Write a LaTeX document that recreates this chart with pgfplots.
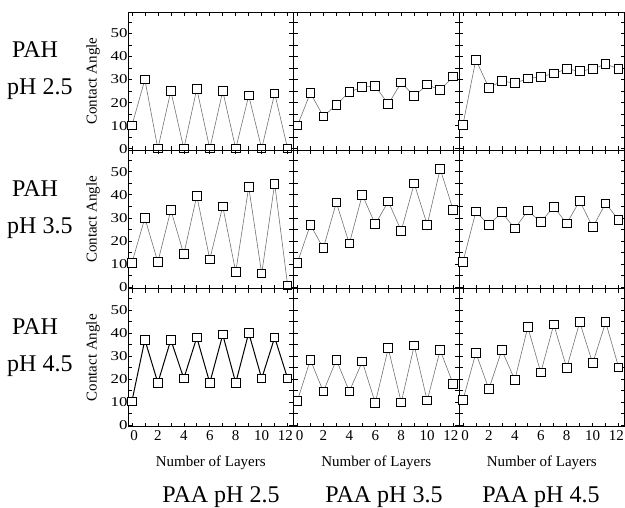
\documentclass[border=0pt]{standalone}
\usepackage{fontspec}
\setmainfont{Liberation Serif}
\newfontfamily\ytickfont{Liberation Serif}[FakeStretch=1.25]
\usepackage{pgfplots}
\pgfplotsset{compat=1.18}
\pgfplotsset{
 panel/.style={
  scale only axis, width=165.5pt, height=138.3pt,
  xmin=-0.3, xmax=12.45, ymin=-0.7, ymax=59.3,
  anchor=north west, clip=false,
  axis line style={line width=0.9pt},
  tick align=inside, major tick length=4pt, minor tick length=4pt,
  every tick/.style={black, line width=0.6pt},
  xtick={0,2,...,12}, minor xtick={1,3,...,11},
  xticklabels={{\hspace*{4.5pt}0},2,4,6,8,10,{12\hspace*{4.5pt}}},
  ytick={0,10,...,50}, minor ytick={5,15,...,55},
  /pgf/number format/assume math mode=true,
  xticklabel style={font=\fontsize{15}{15}\selectfont},
  yticklabel style={font=\ytickfont\fontsize{13.5}{13.5}\selectfont, xshift=3pt},
  ylabel style={at={(axis description cs:-0.2115,0.5)}, anchor=center, font=\fontsize{15}{15}\selectfont},
  xlabel style={at={(axis description cs:0.5,-0.26)}, anchor=center, font=\fontsize{15}{15}\selectfont},
 },
 noy/.style={yticklabels={}},
 nox/.style={xticklabels={}},
 ser/.style={color=black!55, line width=0.6pt, mark=square*, mark size=4.3pt,
   mark options={fill=white, draw=black, line width=1pt, solid}},
}
\begin{document}
\begin{tikzpicture}
% Row 1
\begin{axis}[panel, nox, at={(128pt,496pt)}, ylabel={Contact Angle}]
\addplot[ser] coordinates {(0,10)(1,30)(2,0)(3,25)(4,0)(5,26)(6,0)(7,25)(8,0)(9,23)(10,0)(11,24)(12,0)};
\end{axis}
\begin{axis}[panel, nox, noy, at={(293.5pt,496pt)}]
\addplot[ser] coordinates {(0,10)(1,24.2)(2,14)(3,19)(4,24.6)(5,26.7)(6,27.2)(7,19.3)(8,28.7)(9,22.8)(10,27.8)(11,25.4)(12,31.3)};
\end{axis}
\begin{axis}[panel, nox, noy, at={(459pt,496pt)}]
\addplot[ser] coordinates {(0,10.3)(1,38.6)(2,26.4)(3,29.4)(4,28.4)(5,30.4)(6,31.2)(7,32.6)(8,34.6)(9,33.6)(10,34.6)(11,36.7)(12,34.6)};
\end{axis}
% Row 2
\begin{axis}[panel, nox, at={(128pt,357.7pt)}, ylabel={Contact Angle}]
\addplot[ser] coordinates {(0,10.5)(1,29.9)(2,10.8)(3,33.4)(4,14.2)(5,39.6)(6,12)(7,35)(8,6.5)(9,43.4)(10,5.8)(11,44.8)(12,0.6)};
\end{axis}
\begin{axis}[panel, nox, noy, at={(293.5pt,357.7pt)}]
\addplot[ser] coordinates {(0,10.5)(1,27)(2,16.8)(3,36.6)(4,18.8)(5,40)(6,27.2)(7,37.1)(8,24.4)(9,44.9)(10,27)(11,51.2)(12,33.5)};
\end{axis}
\begin{axis}[panel, nox, noy, at={(459pt,357.7pt)}]
\addplot[ser] coordinates {(0,10.8)(1,32.7)(2,26.9)(3,32.4)(4,25.3)(5,33.1)(6,28.2)(7,34.8)(8,27.5)(9,37.4)(10,25.9)(11,36.3)(12,29)};
\end{axis}
% Row 3
\begin{axis}[panel, at={(128pt,219.4pt)}, ylabel={Contact Angle}, xlabel={Number of Layers}]
\addplot[ser, color=black, line width=1pt] coordinates {(0,10.4)(1,37.1)(2,18.4)(3,37.1)(4,20.3)(5,38.1)(6,18.4)(7,39.3)(8,18.4)(9,40.1)(10,20.3)(11,38.1)(12,20.3)};
\end{axis}
\begin{axis}[panel, noy, at={(293.5pt,219.4pt)}, xlabel={Number of Layers}]
\addplot[ser] coordinates {(0,10.6)(1,28.4)(2,14.6)(3,28.4)(4,14.7)(5,27.6)(6,9.7)(7,33.4)(8,9.9)(9,34.6)(10,10.7)(11,32.6)(12,17.9)};
\end{axis}
\begin{axis}[panel, noy, at={(459pt,219.4pt)}, xlabel={Number of Layers}]
\addplot[ser] coordinates {(0,10.9)(1,31.4)(2,15.7)(3,32.6)(4,19.7)(5,42.6)(6,22.9)(7,43.7)(8,24.9)(9,44.7)(10,26.9)(11,44.7)(12,25.1)};
\end{axis}
% Row labels
\begin{scope}[every node/.style={anchor=base west, inner sep=0pt, font=\fontsize{24}{24}\selectfont}]
\node at (12pt,450pt) {PAH};
\node at (7pt,413pt) {pH 2.5};
\node at (12pt,311.7pt) {PAH};
\node at (7pt,274.7pt) {pH 3.5};
\node at (12pt,173.4pt) {PAH};
\node at (7pt,136.4pt) {pH 4.5};
\end{scope}
% Column labels
\begin{scope}[every node/.style={anchor=base, inner sep=0pt, font=\fontsize{24}{24}\selectfont}]
\node at (221pt,5pt) {PAA pH 2.5};
\node at (384pt,5pt) {PAA pH 3.5};
\node at (541pt,5pt) {PAA pH 4.5};
\end{scope}
\pgfresetboundingbox
\useasboundingbox (0,0) rectangle (625pt,508pt);
\end{tikzpicture}
\end{document}
